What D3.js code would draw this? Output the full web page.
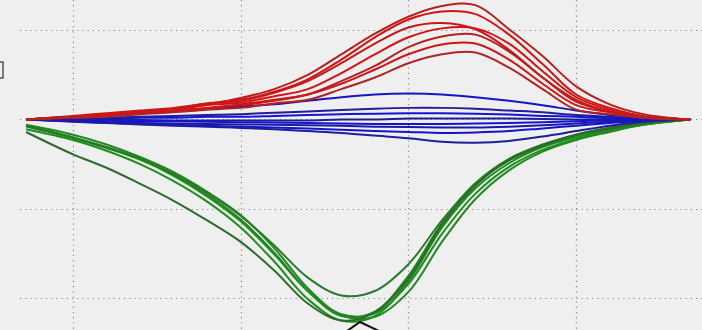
<!DOCTYPE html>
<html>
<head>
<meta charset="utf-8">
<script src="https://cdn.jsdelivr.net/npm/d3@7"></script>
<style>
  html, body { margin: 0; padding: 0; background: #efefef; }
  svg { display: block; }
</style>
</head>
<body>
<svg id="chart" width="702" height="330"></svg>
<script>
// sample positions along x (grid lines sit at 1, 2, 3, 4)
const xs = [0.72, 1.0, 1.2, 1.4, 1.6, 1.8, 2.0, 2.2, 2.4, 2.6, 2.8, 3.0, 3.2, 3.4, 3.6, 3.8, 4.0, 4.2, 4.4, 4.68];

const xTicks = [1, 2, 3, 4];
const yTicks = [-2, -1, 0, 1];

const redSeries = [
  [0, 0.03, 0.06, 0.08, 0.11, 0.17, 0.24, 0.34, 0.50, 0.73, 0.96, 1.15, 1.27, 1.28, 1.01, 0.71, 0.37, 0.17, 0.06, 0],
  [0, 0.03, 0.06, 0.09, 0.12, 0.18, 0.22, 0.31, 0.45, 0.67, 0.92, 1.12, 1.21, 1.18, 0.95, 0.62, 0.28, 0.13, 0.04, 0],
  [0, 0.04, 0.07, 0.10, 0.13, 0.18, 0.21, 0.30, 0.43, 0.63, 0.85, 1.03, 1.08, 1.01, 0.78, 0.47, 0.22, 0.09, 0.03, 0],
  [0, 0.03, 0.06, 0.08, 0.11, 0.16, 0.19, 0.26, 0.34, 0.52, 0.73, 0.92, 1.02, 1.02, 0.85, 0.54, 0.25, 0.11, 0.03, 0],
  [0, 0.03, 0.04, 0.07, 0.10, 0.13, 0.17, 0.22, 0.28, 0.43, 0.60, 0.81, 0.93, 0.95, 0.76, 0.47, 0.20, 0.09, 0.03, 0],
  [0, 0.03, 0.04, 0.07, 0.09, 0.13, 0.16, 0.21, 0.28, 0.40, 0.56, 0.73, 0.84, 0.85, 0.67, 0.40, 0.16, 0.08, 0.02, 0],
  [0, 0.02, 0.03, 0.06, 0.08, 0.11, 0.13, 0.18, 0.22, 0.34, 0.47, 0.63, 0.73, 0.75, 0.58, 0.34, 0.11, 0.06, 0.02, 0]
];

const blueSeries = [
  [0, 0.03, 0.06, 0.08, 0.10, 0.12, 0.145, 0.17, 0.21, 0.25, 0.28, 0.29, 0.28, 0.25, 0.21, 0.16, 0.10, 0.05, 0.02, 0],
  [0, 0.01, 0.02, 0.03, 0.04, 0.05, 0.06, 0.075, 0.09, 0.105, 0.12, 0.13, 0.13, 0.12, 0.10, 0.08, 0.05, 0.03, 0.01, 0],
  [0, 0.01, 0.01, 0.02, 0.02, 0.03, 0.03, 0.04, 0.05, 0.06, 0.065, 0.07, 0.07, 0.065, 0.055, 0.04, 0.03, 0.015, 0.005, 0],
  [0, 0, 0, -0.005, -0.01, -0.01, -0.01, -0.01, -0.01, 0, 0, 0.01, 0.01, 0.01, 0.01, 0.005, 0, 0, 0, 0],
  [0, -0.01, -0.015, -0.02, -0.02, -0.025, -0.03, -0.035, -0.04, -0.045, -0.05, -0.05, -0.05, -0.045, -0.04, -0.03, -0.02, -0.01, 0, 0],
  [0, -0.02, -0.03, -0.04, -0.045, -0.05, -0.055, -0.06, -0.065, -0.07, -0.08, -0.085, -0.09, -0.09, -0.08, -0.065, -0.045, -0.025, -0.01, 0],
  [0, -0.02, -0.035, -0.05, -0.06, -0.07, -0.08, -0.09, -0.10, -0.115, -0.13, -0.14, -0.15, -0.145, -0.13, -0.10, -0.07, -0.04, -0.015, 0],
  [0, -0.025, -0.04, -0.055, -0.07, -0.08, -0.095, -0.11, -0.13, -0.15, -0.18, -0.21, -0.25, -0.26, -0.24, -0.19, -0.13, -0.07, -0.025, 0]
];

const greenSeries = [
  [-0.08, -0.21, -0.32, -0.45, -0.63, -0.86, -1.14, -1.51, -1.92, -2.18, -2.17, -1.84, -1.28, -0.83, -0.53, -0.34, -0.22, -0.13, -0.06, 0],
  [-0.06, -0.17, -0.28, -0.42, -0.59, -0.81, -1.07, -1.44, -1.89, -2.19, -2.21, -1.93, -1.37, -0.89, -0.57, -0.36, -0.23, -0.14, -0.06, 0],
  [-0.11, -0.23, -0.35, -0.50, -0.69, -0.92, -1.21, -1.59, -2.01, -2.25, -2.20, -1.81, -1.21, -0.77, -0.49, -0.31, -0.20, -0.12, -0.05, 0],
  [-0.07, -0.20, -0.31, -0.44, -0.62, -0.84, -1.12, -1.49, -1.92, -2.20, -2.15, -1.75, -1.16, -0.73, -0.46, -0.30, -0.18, -0.11, -0.05, 0],
  [-0.07, -0.20, -0.31, -0.44, -0.61, -0.82, -1.08, -1.41, -1.77, -1.97, -1.92, -1.62, -1.13, -0.71, -0.44, -0.28, -0.17, -0.09, -0.04, 0],
  [-0.14, -0.39, -0.54, -0.72, -0.91, -1.13, -1.37, -1.69, -2.06, -2.25, -2.16, -1.78, -1.18, -0.74, -0.45, -0.29, -0.17, -0.10, -0.04, 0]
];

const redColors = ["#b82020", "#d41414", "#c81818", "#d41414", "#b82020", "#d41414", "#b02424"];
const blueColors = ["#1414c8", "#1e1e96", "#1414d8", "#1e1e8c", "#1414d8", "#1a1aa0", "#1414d0", "#1e1e9a"];
const greenColors = ["#1e8c1e", "#208a20", "#1a901a", "#228622", "#2a7a2a", "#2e6a2e"];

const width = 702, height = 330;
const svg = d3.select("#chart");

const x = d3.scaleLinear().domain([0, 4.75]).range([-94.7, 701.9]);
const y = d3.scaleLinear().domain([-2.5, 1.5]).range([342.8, -14.5]);

// dotted grid
const grid = svg.append("g").attr("stroke", "#8a8a8a").attr("stroke-width", 1.2)
  .attr("stroke-dasharray", "1.2,4");

grid.selectAll("line.v").data(xTicks).enter().append("line")
  .attr("class", "v")
  .attr("x1", (d) => Math.round(x(d)) + 0.5).attr("x2", (d) => Math.round(x(d)) + 0.5)
  .attr("y1", 0).attr("y2", height);

grid.selectAll("line.h").data(yTicks).enter().append("line")
  .attr("class", "h")
  .attr("y1", (d) => Math.round(y(d)) + 0.5).attr("y2", (d) => Math.round(y(d)) + 0.5)
  .attr("x1", 20).attr("x2", width);

const line = d3.line()
  .x((d, i) => x(xs[i]))
  .y((d) => y(d))
  .curve(d3.curveCatmullRom.alpha(0.5));

function drawGroup(series, colors) {
  svg.append("g").selectAll("path").data(series).enter().append("path")
    .attr("d", line)
    .attr("fill", "none")
    .attr("stroke", (d, i) => colors[i % colors.length])
    .attr("stroke-width", 2)
    .attr("stroke-linejoin", "round");
}

drawGroup(greenSeries, greenColors);
drawGroup(blueSeries, blueColors);
drawGroup(redSeries, redColors);

// bits of the surrounding window that show in the crop
svg.append("rect")
  .attr("x", -5).attr("y", 62).attr("width", 8).attr("height", 16)
  .attr("fill", "none").attr("stroke", "#555").attr("stroke-width", 1.5);

svg.append("path")
  .attr("d", "M347,331 L360,322 L379,331")
  .attr("fill", "none").attr("stroke", "#111").attr("stroke-width", 2);
</script>
</body>
</html>
